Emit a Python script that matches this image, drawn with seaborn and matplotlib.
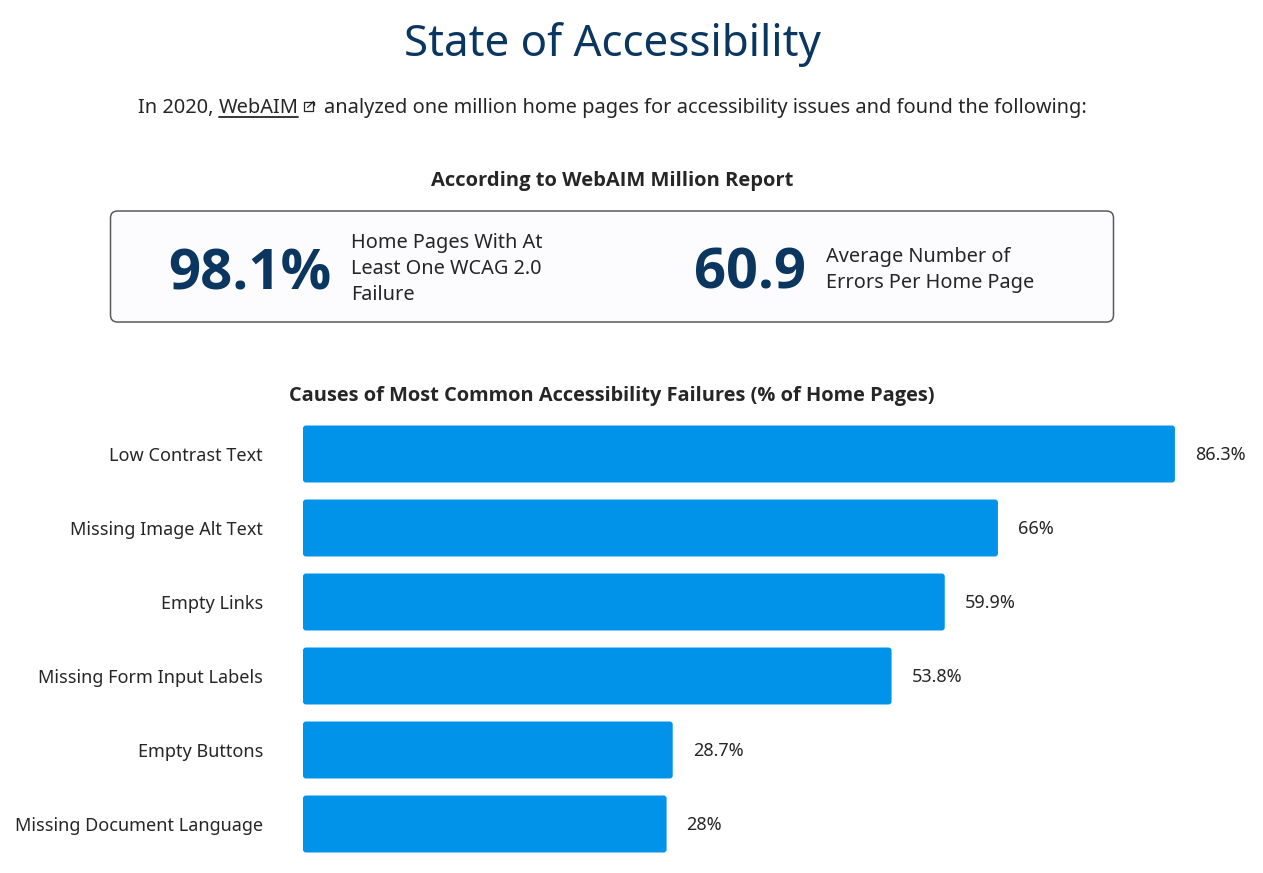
import matplotlib
matplotlib.use("Agg")
import matplotlib.pyplot as plt
import seaborn as sns
import pandas as pd
from matplotlib.patches import FancyBboxPatch, Rectangle
from matplotlib.lines import Line2D
from matplotlib.transforms import IdentityTransform

# data
causes = ["Low Contrast Text", "Missing Image Alt Text", "Empty Links",
          "Missing Form Input Labels", "Empty Buttons", "Missing Document Language"]
shares = [86.3, 66, 59.9, 53.8, 28.7, 28]
stat_values = ["98.1%", "60.9"]
stat_captions = [["Home Pages With At", "Least One WCAG 2.0", "Failure"],
                 ["Average Number of", "Errors Per Home Page"]]

W, H = 1263, 873
BLUE = "#0093e9"
NAVY = "#0b3660"
INK = "#262626"
BOLD = ["Open Sans", "DejaVu Sans"]  # Noto Sans here is variable-only, no bold face

sns.set_style("white")
plt.rcParams["font.family"] = ["Noto Sans", "DejaVu Sans"]

fig = plt.figure(figsize=(W / 100, H / 100), dpi=100)
fig.patch.set_facecolor("white")


def fx(x):
    return x / W


def fy(y):
    return 1 - y / H


# header
fig.text(fx(612), fy(56), "State of Accessibility", ha="center", va="baseline",
         fontsize=31.6, color=NAVY)
fig.text(fx(138), fy(113), "In 2020,", ha="left", va="baseline", fontsize=14.4, color=INK)
fig.text(fx(219), fy(113), "WebAIM", ha="left", va="baseline", fontsize=14.4, color=INK)
fig.add_artist(Line2D([fx(219), fx(298)], [fy(116.5), fy(116.5)], color=INK, lw=1.3))
# external link icon
fig.add_artist(Rectangle((fx(304), fy(111)), fx(9), 9 / H, fill=False, ec=INK, lw=0.9))
fig.add_artist(Line2D([fx(307.5), fx(313.5)], [fy(107.5), fy(101.5)], color=INK, lw=0.9))
fig.add_artist(Line2D([fx(310), fx(313.5), fx(313.5)], [fy(101.5), fy(101.5), fy(105)],
                      color=INK, lw=0.9))
fig.text(fx(324), fy(113), "analyzed one million home pages for accessibility issues and found the following:",
         ha="left", va="baseline", fontsize=14.4, color=INK)

fig.text(fx(612), fy(186), "According to WebAIM Million Report", ha="center", va="baseline",
         fontsize=14.5, fontweight="bold", family=BOLD, color=INK)

# stats box
box = FancyBboxPatch((110.5, H - 322), 1003, 111, boxstyle="round,pad=0,rounding_size=7",
                     transform=IdentityTransform(), fc="#fcfbfe", ec="#5a5a5a", lw=1.1)
fig.add_artist(box)

fig.text(fx(168), fy(290), stat_values[0], ha="left", va="baseline", fontsize=40.5,
         fontweight="bold", family=BOLD, color=NAVY)
for i, line in enumerate(stat_captions[0]):
    fig.text(fx(351), fy(248 + 26 * i), line, ha="left", va="baseline", fontsize=14.35, color=INK)
fig.text(fx(694), fy(289), stat_values[1], ha="left", va="baseline", fontsize=40.3,
         fontweight="bold", family=BOLD, color=NAVY)
for i, line in enumerate(stat_captions[1]):
    fig.text(fx(826), fy(262 + 26 * i), line, ha="left", va="baseline", fontsize=14.35, color=INK)

fig.text(fx(612), fy(401), "Causes of Most Common Accessibility Failures (% of Home Pages)",
         ha="center", va="baseline", fontsize=14.4, fontweight="bold", family=BOLD, color=INK)

# bar chart
df = pd.DataFrame({"cause": causes, "share": shares})
ax = fig.add_axes([fx(303), 12 / H, 960 / W, 444 / H])
sns.barplot(data=df, x="share", y="cause", orient="h", color=BLUE, width=0.77,
            saturation=1, ax=ax)

base = -13.7
ax.set_xlim(base, 96.4)
ax.set_ylim(len(causes) - 0.5, -0.5)

# rounded bars that start at the chart baseline
for p in list(ax.patches):
    x1 = p.get_x() + p.get_width()
    fb = FancyBboxPatch((base, p.get_y()), x1 - base, p.get_height(),
                        boxstyle="round,pad=0,rounding_size=0.34", mutation_aspect=0.118,
                        fc=BLUE, ec="none")
    p.remove()
    ax.add_patch(fb)

for i, v in enumerate(shares):
    ax.annotate(f"{v:g}%", (v, i), xytext=(14.4, -0.7), textcoords="offset points",
                ha="left", va="center", fontsize=13, color=INK)

ax.set_xlabel("")
ax.set_ylabel("")
ax.set_xticks([])
ax.tick_params(axis="y", length=0, pad=28.8, labelsize=13, labelcolor=INK)
sns.despine(ax=ax, left=True, bottom=True)
ax.patch.set_alpha(0)

fig.savefig("out.png", dpi=100)
